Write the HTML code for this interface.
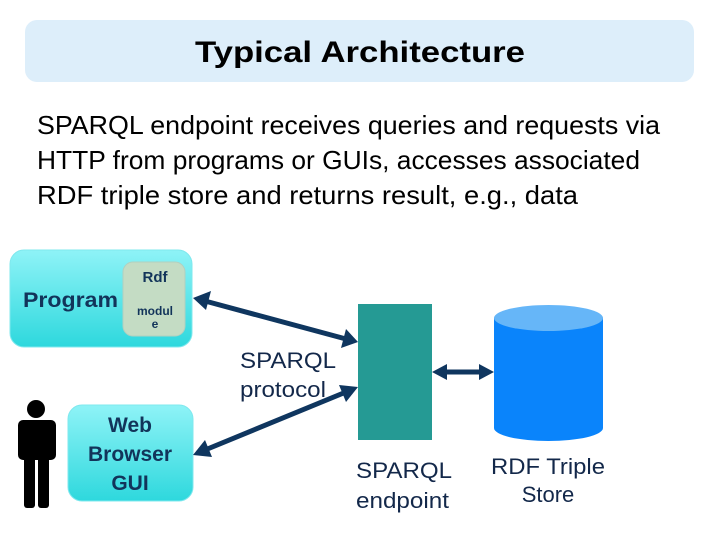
<!DOCTYPE html>
<html><head><style>body{margin:0;background:#fff}svg{display:block}</style></head><body>
<svg width="720" height="540" viewBox="0 0 720 540" xmlns="http://www.w3.org/2000/svg">
<defs>
<linearGradient id="g" x1="0" y1="0" x2="0" y2="1"><stop offset="0" stop-color="#8ff3f7"/><stop offset="1" stop-color="#2ed8dd"/></linearGradient>
</defs>
<rect x="25" y="20" width="669" height="62" rx="12" fill="#ddeefa"/>
<text x="360" y="62" text-anchor="middle" font-family="Liberation Sans, sans-serif" font-weight="bold" font-size="30" textLength="330" lengthAdjust="spacingAndGlyphs">Typical Architecture</text>
<g font-family="Liberation Sans, sans-serif" font-size="26" fill="#000">
<text x="37" y="134" textLength="623" lengthAdjust="spacingAndGlyphs">SPARQL endpoint receives queries and requests via</text>
<text x="37" y="169" textLength="603" lengthAdjust="spacingAndGlyphs">HTTP from programs or GUIs, accesses associated</text>
<text x="37" y="204" textLength="541" lengthAdjust="spacingAndGlyphs">RDF triple store and returns result, e.g., data</text>
</g>
<rect x="10" y="250" width="182" height="97" rx="14" fill="url(#g)" stroke="#7fe8ee"/>
<rect x="123" y="262" width="62" height="74" rx="10" fill="#c4dcc4" stroke="#b0d0c0"/>
<g font-family="Liberation Sans, sans-serif" font-weight="bold" fill="#12345a">
<text x="23" y="307" font-size="21" textLength="95" lengthAdjust="spacingAndGlyphs">Program</text>
<text x="155" y="282" text-anchor="middle" font-size="15">Rdf</text>
<text x="155" y="315" text-anchor="middle" font-size="12">modul</text>
<text x="155" y="328" text-anchor="middle" font-size="12">e</text>
</g>
<rect x="68" y="405" width="125" height="96" rx="14" fill="url(#g)" stroke="#7fe8ee"/>
<g font-family="Liberation Sans, sans-serif" font-weight="bold" fill="#12345a" font-size="21" text-anchor="middle">
<text x="130" y="432">Web</text><text x="130" y="461">Browser</text><text x="130" y="490">GUI</text>
</g>
<g fill="#000">
<circle cx="36" cy="409" r="9"/>
<rect x="18" y="420" width="38" height="40" rx="5"/>
<rect x="24" y="450" width="11" height="58" rx="3"/>
<rect x="38" y="450" width="11" height="58" rx="3"/>
</g>
<rect x="358" y="304" width="74" height="136" fill="#259a94"/>
<path d="M494 318 V428 A54.5 13 0 0 0 603 428 V318 Z" fill="#0a84fb"/>
<ellipse cx="548.5" cy="318" rx="54.5" ry="13" fill="#66b6f8"/>
<g stroke="#0f365f" stroke-width="5" fill="#0f365f">
<line x1="205" y1="301" x2="346" y2="339"/>
<line x1="205" y1="450" x2="346" y2="392"/>
<line x1="444" y1="372" x2="482" y2="372"/>
</g>
<g fill="#0f365f">
<polygon points="193,298 211,291 206,310"/>
<polygon points="358,342 341,348 346,329"/>
<polygon points="193,455 205,440 212,457"/>
<polygon points="358,387 346,402 339,385"/>
<polygon points="432,372 447,364 447,380"/>
<polygon points="494,372 479,364 479,380"/>
</g>
<g font-family="Liberation Sans, sans-serif" fill="#13284a" font-size="22">
<text x="240" y="368" textLength="96" lengthAdjust="spacingAndGlyphs">SPARQL</text><text x="240" y="397" textLength="86" lengthAdjust="spacingAndGlyphs">protocol</text>
<text x="356" y="478" textLength="96" lengthAdjust="spacingAndGlyphs">SPARQL</text><text x="356" y="508" textLength="93" lengthAdjust="spacingAndGlyphs">endpoint</text>
<text x="548" y="474" text-anchor="middle" textLength="114" lengthAdjust="spacingAndGlyphs">RDF Triple</text><text x="548" y="502" text-anchor="middle">Store</text>
</g>
</svg>
</body></html>
